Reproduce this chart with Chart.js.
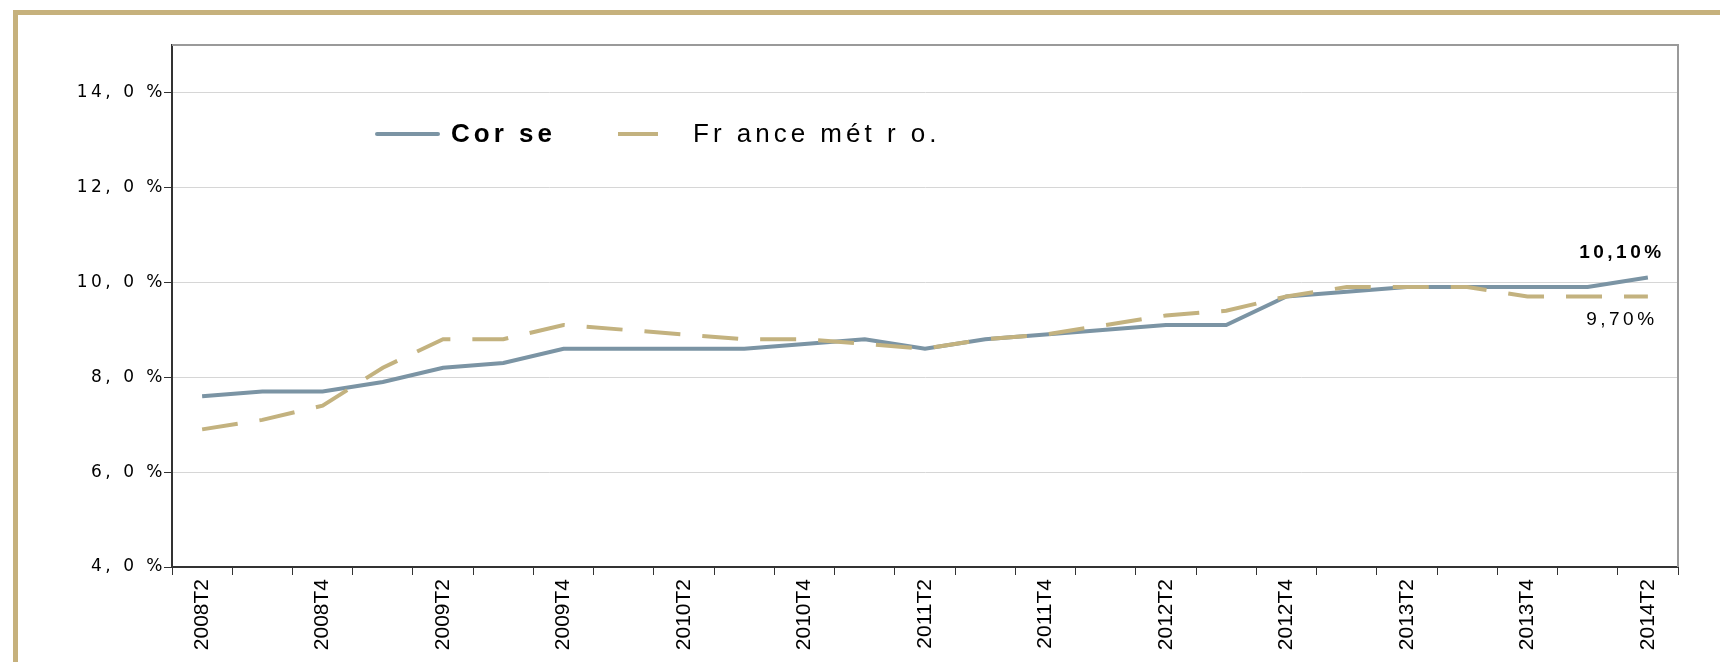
<!DOCTYPE html>
<html>
<head>
<meta charset="utf-8">
<script src="https://cdn.jsdelivr.net/npm/chart.js@4.4.1/dist/chart.umd.min.js"></script>
<style>
    html, body { margin: 0; padding: 0; background: #fff; }
    #wrap { position: relative; width: 1720px; height: 662px; overflow: hidden; }
    #frame {
        position: absolute; left: 13px; top: 10px; right: 0; bottom: 0;
        border-top: 5px solid #c6b17c; border-left: 5px solid #c6b17c;
    }
    canvas { position: absolute; left: 0; top: 0; }
</style>
</head>
<body>
<div id="wrap">
    <div id="frame"></div>
    <canvas id="chomageChart" width="1720" height="662"></canvas>
</div>
<script>
// quarters 2008T2 .. 2014T2
const quarters = [
    '2008T2', '2008T3', '2008T4', '2009T1', '2009T2', '2009T3', '2009T4',
    '2010T1', '2010T2', '2010T3', '2010T4', '2011T1', '2011T2', '2011T3',
    '2011T4', '2012T1', '2012T2', '2012T3', '2012T4', '2013T1', '2013T2',
    '2013T3', '2013T4', '2014T1', '2014T2'
];
const corse = [
    7.6, 7.7, 7.7, 7.9, 8.2, 8.3, 8.6, 8.6, 8.6, 8.6, 8.7, 8.8, 8.6,
    8.8, 8.9, 9.0, 9.1, 9.1, 9.7, 9.8, 9.9, 9.9, 9.9, 9.9, 10.1
];
const franceMetro = [
    6.9, 7.1, 7.4, 8.2, 8.8, 8.8, 9.1, 9.0, 8.9, 8.8, 8.8, 8.7, 8.6,
    8.8, 8.9, 9.1, 9.3, 9.4, 9.7, 9.9, 9.9, 9.9, 9.7, 9.7, 9.7
];
const seriesNames = ['Cor se', 'Fr ance mét r o.'];
const seriesColors = ['#7b94a4', '#c3b27f'];

Chart.defaults.font.family = "'Liberation Sans', Arial, sans-serif";

// y tick labels are drawn with wide spacing in the original
const spacedTicks = {
    id: 'spacedTicks',
    afterLayout(chart) {
        const y = chart.scales.y;
        if (!y || y._spaced) return;
        const drawLabels = y.drawLabels;
        y.drawLabels = function (area) {
            this.ctx.save();
            this.ctx.letterSpacing = '3.5px';
            drawLabels.call(this, area);
            this.ctx.restore();
        };
        y._spaced = true;
    }
};

// top + right frame of the plot
const plotFrame = {
    id: 'plotFrame',
    afterDraw(chart) {
        const { ctx, chartArea: a } = chart;
        ctx.save();
        ctx.strokeStyle = '#9a9a9a';
        ctx.lineWidth = 2;
        ctx.beginPath();
        ctx.moveTo(a.left, a.top);
        ctx.lineTo(a.right, a.top);
        ctx.lineTo(a.right, a.bottom);
        ctx.stroke();
        ctx.restore();
    }
};

// legend sits inside the plot area
const innerLegend = {
    id: 'innerLegend',
    afterDraw(chart) {
        const { ctx, chartArea: a } = chart;
        const y = a.top + 89;
        ctx.save();
        ctx.lineCap = 'round';
        ctx.lineWidth = 4;
        ctx.strokeStyle = seriesColors[0];
        ctx.beginPath();
        ctx.moveTo(a.left + 205, y);
        ctx.lineTo(a.left + 266, y);
        ctx.stroke();
        ctx.lineCap = 'butt';
        ctx.strokeStyle = seriesColors[1];
        ctx.beginPath();
        ctx.moveTo(a.left + 446, y);
        ctx.lineTo(a.left + 486, y);
        ctx.stroke();

        ctx.fillStyle = '#000';
        ctx.textBaseline = 'middle';
        ctx.letterSpacing = '4px';
        ctx.font = "bold 26px 'Liberation Sans', Arial, sans-serif";
        ctx.fillText(seriesNames[0], a.left + 279, y + 1);
        ctx.font = "26px 'Liberation Sans', Arial, sans-serif";
        ctx.fillText(seriesNames[1], a.left + 521, y + 1);
        ctx.restore();
    }
};

// last values written next to the end of the lines
const endLabels = {
    id: 'endLabels',
    afterDatasetsDraw(chart) {
        const ctx = chart.ctx;
        ctx.save();
        ctx.fillStyle = '#000';
        ctx.textAlign = 'center';
        ctx.textBaseline = 'middle';
        ctx.letterSpacing = '3.5px';
        chart.data.datasets.forEach((ds, i) => {
            const meta = chart.getDatasetMeta(i);
            const pt = meta.data[meta.data.length - 1];
            const v = ds.data[ds.data.length - 1];
            const txt = v.toFixed(2).replace('.', ',') + '%';
            const above = ds.label === seriesNames[0];
            ctx.font = (above ? 'bold ' : '') + "19px 'Liberation Sans', Arial, sans-serif";
            ctx.fillText(txt, pt.x - 26, above ? pt.y - 25 : pt.y + 23);
        });
        ctx.restore();
    }
};

const ctx = document.getElementById('chomageChart').getContext('2d');
const chart = new Chart(ctx, {
    type: 'line',
    data: {
        labels: quarters,
        datasets: [
            {
                label: seriesNames[0],
                data: corse,
                borderColor: seriesColors[0],
                borderWidth: 4,
                pointRadius: 0,
                tension: 0,
                order: 1
            },
            {
                label: seriesNames[1],
                data: franceMetro,
                borderColor: seriesColors[1],
                borderWidth: 4,
                borderDash: [36, 22],
                pointRadius: 0,
                tension: 0,
                order: 0
            }
        ]
    },
    options: {
        responsive: false,
        animation: false,
        layout: { padding: { top: 45, right: 42, left: 0, bottom: 0 } },
        plugins: {
            legend: { display: false },
            tooltip: { enabled: false }
        },
        scales: {
            x: {
                offset: true,
                grid: {
                    offset: true,
                    drawOnChartArea: false,
                    tickLength: 8,
                    tickColor: '#333',
                    tickWidth: 1
                },
                border: { color: '#333', width: 2 },
                ticks: {
                    autoSkip: false,
                    maxRotation: 90,
                    minRotation: 90,
                    padding: 4,
                    color: '#000',
                    font: { family: "'Liberation Sans Narrow', 'Arial Narrow', 'Liberation Sans', sans-serif", size: 21 },
                    callback: function (value, index) {
                        return index % 2 === 0 ? this.getLabelForValue(value) : '';
                    }
                },
                afterFit(scale) { scale.height = 95; }
            },
            y: {
                min: 4,
                max: 15,
                grid: {
                    color: (c) => (c.tick && c.tick.value === 4 ? 'rgba(0,0,0,0)' : '#d6d6d6'),
                    lineWidth: 1,
                    tickLength: 8,
                    tickColor: '#333'
                },
                border: { color: '#333', width: 2 },
                ticks: {
                    stepSize: 2,
                    includeBounds: false,
                    padding: -2,
                    color: '#000',
                    font: { family: "'DejaVu Sans', 'Liberation Sans', sans-serif", size: 17 },
                    callback: (v) => v.toFixed(1).replace('.', ', ') + ' %'
                },
                afterFit(scale) { scale.width = 172; }
            }
        }
    },
    plugins: [spacedTicks, plotFrame, innerLegend, endLabels]
});
</script>
</body>
</html>
